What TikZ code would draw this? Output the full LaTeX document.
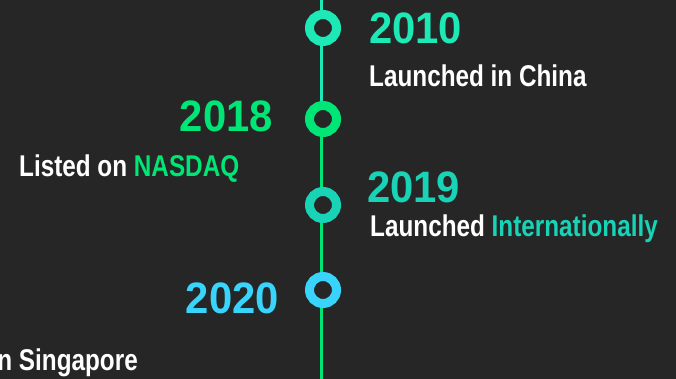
\documentclass[tikz,border=0pt]{standalone}
\usepackage{fontspec}
\newfontfamily\yearfont[FakeStretch=0.95]{Liberation Sans}
\newfontfamily\labfont[FakeStretch=0.81]{Liberation Sans}
\definecolor{bg}{HTML}{262626}
\definecolor{cTeal}{HTML}{1DE9B6}
\definecolor{cGreen}{HTML}{00E676}
\definecolor{cTealB}{HTML}{19D3B6}
\definecolor{cBlue}{HTML}{38D4FC}
\tikzset{
  year/.style={inner sep=0pt, font=\yearfont\bfseries\fontsize{44}{44}\selectfont},
  lab/.style={inner sep=0pt, text=white, font=\labfont\bfseries\fontsize{30}{30}\selectfont},
  ring/.style={circle, draw=#1, line width=9pt, fill=bg, minimum size=27pt, inner sep=0pt},
  axis/.style={line width=2.6pt}
}
\begin{document}
\begin{tikzpicture}[x=1pt,y=-1pt]
\fill[bg] (0,0) rectangle (676,379);
\useasboundingbox (0,0) rectangle (676,379);
\clip (0,0) rectangle (676,379);
\coordinate (top) at (321.5,0);
\coordinate (bot) at (321.5,379);
\coordinate (l2018) at (321.5,119);
\draw[axis, cTeal] (top) -- (l2018);
\draw[axis, cGreen] (l2018) -- (bot);
\node[ring=cTeal] (r2010) at (323,28) {};
\node[ring=cGreen] (r2018) at (323,119) {};
\node[ring=cTealB] (r2019) at (323,205) {};
\node[ring=cBlue] (r2020) at (323,290) {};
\node[year, text=cTeal, anchor=base west] (y2010) at (369,44) {2010};
\node[lab, anchor=base west] (t2010) at (369,87) {Launched in China};
\node[year, text=cGreen, anchor=base east] (y2018) at (273,132) {2018};
\node[lab, anchor=base west] (t2018) at (19,177) {Listed on \textcolor{cGreen}{NASDAQ}};
\node[year, text=cTealB, anchor=base west] (y2019) at (367,203) {2019};
\node[lab, anchor=base west] (t2019) at (370,236) {Launched \textcolor{cTealB}{Internationally}};
\node[year, text=cBlue, anchor=base east] (y2020) at (279,313) {2020};
\node[lab, anchor=base east] (t2020) at (138,370) {n Singapore};
\end{tikzpicture}
\end{document}
